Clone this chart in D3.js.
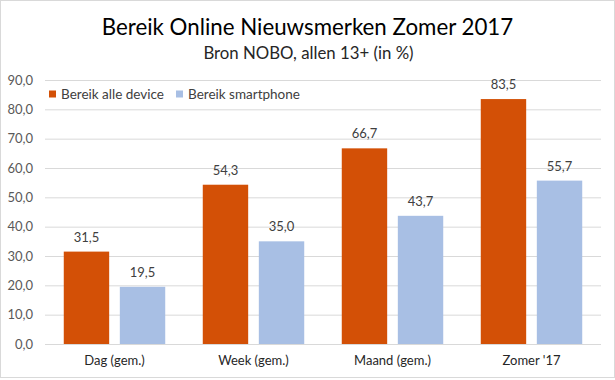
<!DOCTYPE html>
<html>
<head>
<meta charset="utf-8">
<script src="https://cdn.jsdelivr.net/npm/d3@7"></script>
<style>
  body { margin: 0; background: #fff; }
  text { font-family: Lato, "Open Sans", sans-serif; }
</style>
</head>
<body>
<div id="chart"></div>
<script>
const categories = ["Dag (gem.)", "Week (gem.)", "Maand (gem.)", "Zomer '17"];
const seriesNames = ["Bereik alle device", "Bereik smartphone"];
const alleDevice = [31.5, 54.3, 66.7, 83.5];
const smartphone = [19.5, 35.0, 43.7, 55.7];
const yTicks = [0, 10, 20, 30, 40, 50, 60, 70, 80, 90];

const width = 615;
const height = 380;
const margin = { top: 80, right: 14, bottom: 36, left: 45 };
const colors = ["#d35006", "#a8bfe4"];
const fmt = v => v.toFixed(1).replace(".", ",");

const svg = d3.select("#chart")
  .append("svg")
  .attr("width", width)
  .attr("height", height);

svg.append("rect")
  .attr("x", 0.5).attr("y", 0.5)
  .attr("width", width - 1).attr("height", height - 3)
  .attr("fill", "#fff")
  .attr("stroke", "#d9d9d9");

const x = d3.scaleBand()
  .domain(categories)
  .range([margin.left, width - margin.right])
  .paddingInner(0.27)
  .paddingOuter(0.135);

const x1 = d3.scaleBand()
  .domain(seriesNames)
  .range([0, x.bandwidth()])
  .paddingInner(0.19);

const y = d3.scaleLinear()
  .domain([0, 90])
  .range([height - margin.bottom, margin.top]);

// gridlines + y labels
const yAxis = svg.append("g")
  .attr("transform", `translate(${margin.left},0)`)
  .call(d3.axisLeft(y).tickValues(yTicks).tickFormat(fmt)
    .tickSize(-(width - margin.left - margin.right)).tickPadding(12));
yAxis.select(".domain").remove();
yAxis.selectAll("line").attr("stroke", "#d9d9d9");
yAxis.selectAll("text")
  .attr("fill", "#595959")
  .style("font-size", "13px");

// x labels
const xAxis = svg.append("g")
  .attr("transform", `translate(0,${height - margin.bottom})`)
  .call(d3.axisBottom(x).tickSize(0).tickPadding(12));
xAxis.select(".domain").remove();
xAxis.selectAll("text")
  .attr("fill", "#262626")
  .style("font-size", "13px");

const rows = categories.map((c, i) => ({ cat: c, vals: [alleDevice[i], smartphone[i]] }));

const groups = svg.append("g")
  .selectAll("g")
  .data(rows)
  .join("g")
  .attr("transform", d => `translate(${x(d.cat)},0)`);

groups.selectAll("rect")
  .data(d => d.vals.map((v, j) => ({ name: seriesNames[j], v, j })))
  .join("rect")
  .attr("x", d => x1(d.name))
  .attr("y", d => y(d.v))
  .attr("width", x1.bandwidth())
  .attr("height", d => y(0) - y(d.v))
  .attr("fill", d => colors[d.j]);

groups.selectAll("text.val")
  .data(d => d.vals.map((v, j) => ({ name: seriesNames[j], v, j })))
  .join("text")
  .attr("class", "val")
  .attr("x", d => x1(d.name) + x1.bandwidth() / 2)
  .attr("y", d => y(d.v) - 10)
  .attr("text-anchor", "middle")
  .attr("fill", "#404040")
  .style("font-size", "13px")
  .text(d => fmt(d.v));

// titles
svg.append("text")
  .attr("x", width / 2).attr("y", 35)
  .attr("text-anchor", "middle")
  .attr("fill", "#000")
  .style("font-size", "22.3px")
  .text("Bereik Online Nieuwsmerken Zomer 2017");

svg.append("text")
  .attr("x", width / 2 + 1).attr("y", 59)
  .attr("text-anchor", "middle")
  .attr("fill", "#262626")
  .style("font-size", "16.8px")
  .text("Bron NOBO, allen 13+ (in %)");

// legend
const legend = svg.append("g").attr("transform", "translate(49,94)");
const legX = [0, 127];
seriesNames.forEach((n, i) => {
  legend.append("rect")
    .attr("x", legX[i]).attr("y", -3.5)
    .attr("width", 7).attr("height", 7)
    .attr("fill", colors[i]);
  legend.append("text")
    .attr("x", legX[i] + 12).attr("y", 0)
    .attr("dy", "0.35em")
    .attr("fill", "#404040")
    .style("font-size", "13.5px")
    .text(n);
});
</script>
</body>
</html>
